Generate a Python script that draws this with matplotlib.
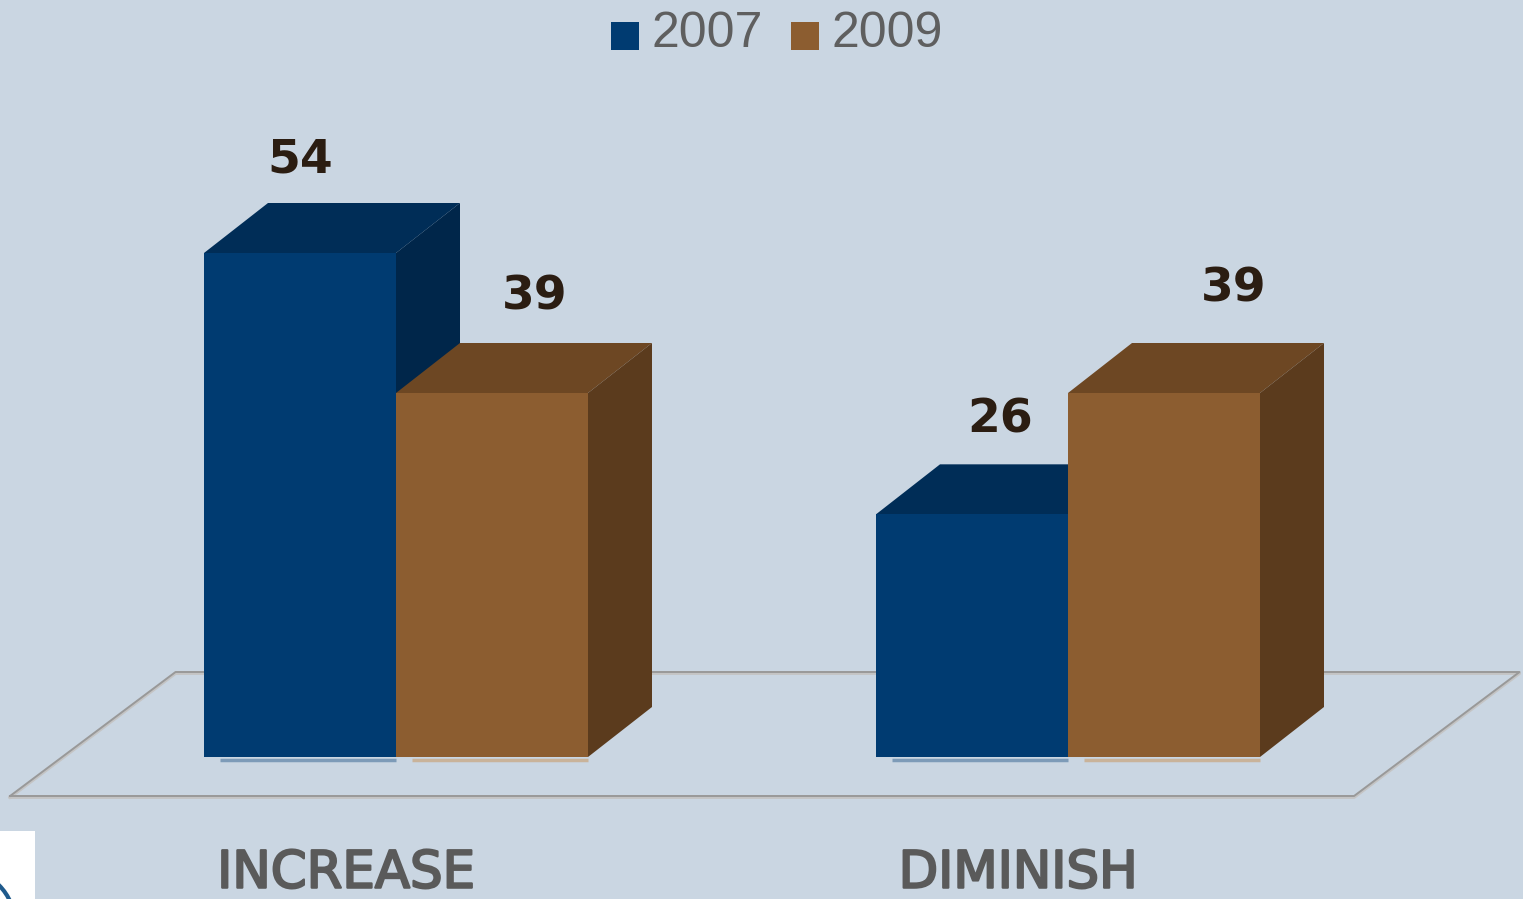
import matplotlib
matplotlib.use("Agg")
import matplotlib.pyplot as plt
import matplotlib.patheffects as pe
from matplotlib.patches import Polygon, Rectangle, Arc

categories = ["INCREASE", "DIMINISH"]
years = ["2007", "2009"]
values_2007 = [54, 26]
values_2009 = [39, 39]

bg = "#cad6e2"
front_colors = ["#003b71", "#8c5d30"]
top_colors = ["#002d57", "#6d4723"]
side_colors = ["#00264a", "#5b3b1d"]
base_colors = ["#7d9bb8", "#c9b39a"]

W, H = 1523, 899
fig = plt.figure(figsize=(W / 100, H / 100), dpi=100)
fig.patch.set_facecolor(bg)
ax = fig.add_axes([0, 0, 1, 1])
ax.set_facecolor(bg)
ax.axis("off")

# 1 category step = 672 px, 1 value unit = 9.333 px, zero at 757 px from top
px_x = 672.0
px_y = 504.0 / 54
x0 = 396.0
y0 = 757.0
ax.set_xlim(-x0 / px_x, (W - x0) / px_x)
ax.set_ylim(-(H - y0) / px_y, y0 / px_y)

width = 192 / px_x
ddx = 64 / px_x   # depth offset
ddy = 50 / px_y

# floor outline
f_front, f_back = -0.78, 1.70
fl = -0.5
fr = 1.5
fx = [fl + f_front * ddx, fr + f_front * ddx, fr + f_back * ddx + 0.01, fl + f_back * ddx + 0.01, fl + f_front * ddx]
fy = [f_front * ddy, f_front * ddy, f_back * ddy, f_back * ddy, f_front * ddy]
ax.plot(fx, [v - 0.15 for v in fy], color="#c4c4c4", lw=2.2, zorder=1)
ax.plot(fx, fy, color="#999999", lw=1.4, zorder=2)

series = [values_2007, values_2009]
label_dx = [[0.0, 0.064], [0.042, 0.103]]
label_dy = [[4.6, 4.9], [4.8, 5.8]]

for i, cat in enumerate(categories):
    for j, vals in enumerate(series):
        v = vals[i]
        left = i + (j - 1) * width
        right = left + width
        z = 3 + j
        # top face
        ax.add_patch(Polygon([[left, v], [right, v], [right + ddx, v + ddy], [left + ddx, v + ddy]],
                             closed=True, facecolor=top_colors[j], edgecolor="none", zorder=z))
        # side face
        ax.add_patch(Polygon([[right, 0], [right + ddx, ddy], [right + ddx, v + ddy], [right, v]],
                             closed=True, facecolor=side_colors[j], edgecolor="none", zorder=z))
        # front face
        ax.bar(left, v, width=width, align="edge", color=front_colors[j], zorder=z + 0.5)
        ax.plot([left + 16 / px_x, right], [-0.3, -0.3], color=base_colors[j], lw=2.5,
                solid_capstyle="butt", zorder=z + 0.4)
        # value label
        ax.text(left + width / 2 + label_dx[i][j], v + ddy + label_dy[i][j], str(v),
                ha="center", va="center", fontsize=34, fontweight="bold",
                family="DejaVu Sans", color="#2b1d12", zorder=10)
    ax.text(i - 50 / px_x, -12.5, cat, ha="center", va="center", fontsize=37,
            family="DejaVu Sans", color="#5a5a5a", zorder=10,
            path_effects=[pe.withStroke(linewidth=1.6, foreground="#5a5a5a")])

# legend
sq = 28
leg_x = [611, 791]
for j, yr in enumerate(years):
    fig.patches.append(Rectangle((leg_x[j] / W, 1 - 50 / H), sq / W, sq / H,
                                 transform=fig.transFigure, facecolor=front_colors[j],
                                 edgecolor="none"))
    fig.text((leg_x[j] + 40) / W, 1 - 34 / H, yr, ha="left", va="center",
             fontsize=36, family="Liberation Sans", color="#5f5f5f")

# corner logo fragment
fig.patches.append(Rectangle((0, 0), 35 / W, 68 / H, transform=fig.transFigure,
                             facecolor="white", edgecolor="none"))
arc = Arc((-40 / W, -25 / H), 110 / W, 110 / H, theta1=0, theta2=90,
          transform=fig.transFigure, color="#1f5a8c", lw=3)
arc.set_clip_path(Rectangle((0, 0), 35 / W, 68 / H, transform=fig.transFigure))
fig.patches.append(arc)

fig.savefig("out.png", dpi=100, facecolor=bg)
